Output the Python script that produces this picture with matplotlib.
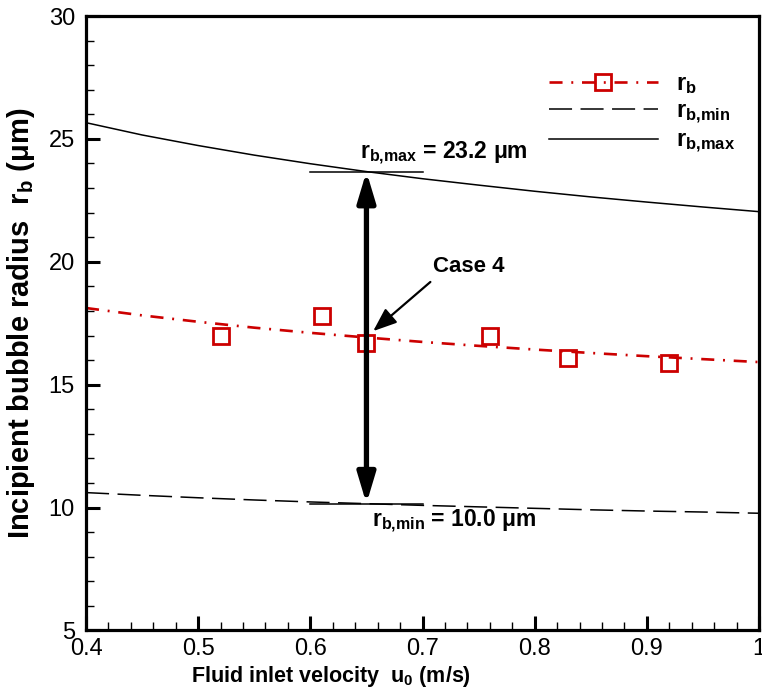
import matplotlib
matplotlib.use("Agg")
import matplotlib.pyplot as plt
from matplotlib.lines import Line2D
from matplotlib.patches import ArrowStyle

plt.rcParams['font.family'] = ['Liberation Sans', 'DejaVu Sans']
plt.rcParams['mathtext.default'] = 'regular'
plt.rcParams['lines.scale_dashes'] = False

# ---- data ----
u_curve = [0.40, 0.45, 0.50, 0.55, 0.60, 0.65, 0.70, 0.75, 0.80, 0.85, 0.90, 0.95, 1.00]
rb_fit = [18.12, 17.82, 17.56, 17.32, 17.11, 16.92, 16.74, 16.58, 16.43, 16.29, 16.16, 16.04, 15.92]
rb_min = [10.61, 10.50, 10.40, 10.31, 10.23, 10.16, 10.09, 10.03, 9.97, 9.91, 9.86, 9.82, 9.77]
rb_max = [25.66, 25.16, 24.73, 24.34, 23.99, 23.67, 23.38, 23.12, 22.87, 22.64, 22.43, 22.23, 22.04]
u_cases = [0.52, 0.61, 0.65, 0.76, 0.83, 0.92]
rb_cases = [17.0, 17.8, 16.7, 17.0, 16.1, 15.9]

case4_u = 0.65
case4_top = 23.67
case4_bot = 10.16
seg_u = [0.6, 0.7]

xticks = [0.4, 0.5, 0.6, 0.7, 0.8, 0.9, 1.0]
xtick_labels = ['0.4', '0.5', '0.6', '0.7', '0.8', '0.9', '1']
yticks = [5, 10, 15, 20, 25, 30]

red = '#cc0000'
dashdot = (0, (9.4, 6.3, 1.4, 6.3))
dashed = (0, (16.6, 6.1))

fig = plt.figure(figsize=(7.62, 6.93), dpi=100)
ax = fig.add_axes([0.1129, 0.0902, 0.8832, 0.8867])

ax.plot(u_curve, rb_max, color='black', lw=1.1, solid_capstyle='butt')
ax.plot(u_curve, rb_min, color='black', lw=1.1, linestyle=dashed)
ax.plot(u_curve, rb_fit, color=red, lw=1.9, linestyle=dashdot)
ax.plot(u_cases, rb_cases, linestyle='none', marker='s', markersize=12,
        markerfacecolor='none', markeredgecolor=red, markeredgewidth=2.0)

# horizontal reference segments
ax.plot(seg_u, [case4_top, case4_top], color='black', lw=1.1)
ax.plot(seg_u, [case4_bot, case4_bot], color='black', lw=1.1)

# double arrow
ax.annotate('', xy=(case4_u, case4_top), xytext=(case4_u, case4_bot),
            arrowprops=dict(arrowstyle=ArrowStyle('<|-|>', head_length=1.0, head_width=0.3),
                            mutation_scale=18, lw=3.8, color='black',
                            shrinkA=0, shrinkB=0))

# Case 4 arrow
ax.annotate('', xy=(0.656, 17.18), xytext=(0.707, 19.18),
            arrowprops=dict(arrowstyle=ArrowStyle('-|>', head_length=0.9, head_width=0.35),
                            mutation_scale=16, lw=1.6, color='black',
                            shrinkA=0, shrinkB=0))
ax.text(0.7094, 19.58, 'Case 4', fontsize=16, fontweight='bold', ha='left', va='baseline')

ax.text(0.6443, 24.18, r'r$_{b{,}max}$ = 23.2 μm', fontsize=16.5, fontweight='bold',
        ha='left', va='baseline')
ax.text(0.655, 9.21, r'r$_{b{,}min}$ = 10.0 μm', fontsize=16.5, fontweight='bold',
        ha='left', va='baseline')

ax.set_xlim(0.4, 1.0)
ax.set_ylim(5, 30)
ax.set_xticks(xticks)
ax.set_xticklabels(xtick_labels)
ax.set_yticks(yticks)
ax.set_xticks([0.4 + 0.02 * i for i in range(31)], minor=True)
ax.set_yticks([5 + i for i in range(26)], minor=True)

for s in ax.spines.values():
    s.set_linewidth(2.3)
ax.tick_params(which='both', direction='in', top=False, right=False)
ax.tick_params(which='major', length=10, width=2.2, labelsize=17)
ax.tick_params(axis='y', which='major', pad=8)
ax.tick_params(axis='x', which='major', pad=5.5)
ax.tick_params(which='minor', length=6, width=1.0)

ax.set_xlabel(r'Fluid inlet velocity  u$_0$ (m/s)', fontsize=15.5, fontweight='bold')
ax.xaxis.set_label_coords(0.364, -0.054)
ax.set_ylabel(r'Incipient bubble radius  r$_b$ (μm)', fontsize=21, fontweight='bold')
ax.yaxis.set_label_coords(-0.073, 0.5)

handles = [
    Line2D([], [], color=red, lw=1.9, linestyle=dashdot, marker='s', markersize=12,
           markerfacecolor='none', markeredgecolor=red, markeredgewidth=2.0),
    Line2D([], [], color='black', lw=1.1, linestyle=dashed),
    Line2D([], [], color='black', lw=1.1),
]
labels = [r'r$_b$', r'r$_{b{,}min}$', r'r$_{b{,}max}$']
ax.legend(handles, labels, loc='upper left', bbox_to_anchor=(0.688, 0.909),
          frameon=False, borderpad=0, borderaxespad=0, handlelength=4.6,
          handletextpad=0.76, labelspacing=0.14, numpoints=1,
          prop={'weight': 'bold', 'size': 17})

fig.savefig('out.png', dpi=100)
